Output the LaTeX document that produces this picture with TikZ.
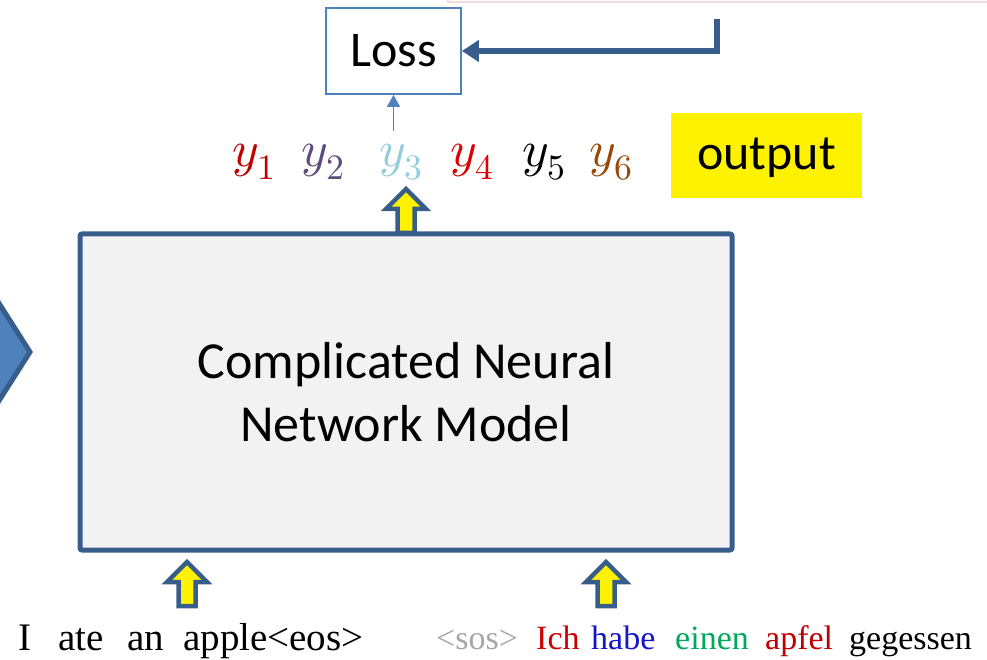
\documentclass[tikz,border=0pt]{standalone}
\usepackage{fontspec}
\usepackage{unicode-math}
\setmainfont{Carlito}
\newfontfamily\timesf{Liberation Serif}
\usetikzlibrary{arrows.meta}
\definecolor{dkblue}{RGB}{56,93,138}
\definecolor{accent}{RGB}{79,129,189}
\definecolor{boxgray}{RGB}{242,242,242}
\definecolor{pinkline}{RGB}{242,220,219}
\definecolor{cyone}{RGB}{192,0,0}
\definecolor{cytwo}{RGB}{96,74,123}
\definecolor{cythree}{RGB}{147,205,221}
\definecolor{cyfour}{RGB}{220,0,0}
\definecolor{cysix}{RGB}{152,72,7}
\definecolor{sosgray}{RGB}{166,166,166}
\definecolor{ichred}{RGB}{204,0,0}
\definecolor{habeblue}{RGB}{20,20,200}
\definecolor{einengreen}{RGB}{0,168,90}
\definecolor{apfelred}{RGB}{192,0,0}
\tikzset{
  modelbox/.style={draw=dkblue, line width=5pt, fill=boxgray, rounded corners=2pt,
    minimum width=652pt, minimum height=316pt, align=center, inner sep=0pt,
    font=\fontsize{52}{63}\selectfont},
  lossbox/.style={draw=accent, line width=1.8pt, fill=white, minimum width=135pt,
    minimum height=86pt, inner sep=0pt, font=\fontsize{50}{50}\selectfont},
  outbox/.style={fill=yellow, minimum width=191pt, minimum height=85pt, inner sep=0pt,
    text height=38pt, text depth=10pt, font=\fontsize{50}{50}\selectfont},
  ylab/.style={anchor=base west, inner sep=0pt, font=\fontsize{51}{51}\selectfont},
  lefttext/.style={anchor=base west, inner sep=0pt, font=\timesf\fontsize{39}{39}\selectfont},
  righttext/.style={anchor=base west, inner sep=0pt, font=\timesf\fontsize{34}{34}\selectfont},
  thinarr/.style={draw=accent, line width=1.5pt, -{Triangle[length=12pt,width=13pt]}},
  fbarr/.style={draw=dkblue, line width=6pt, line join=miter, -{Triangle[length=17pt,width=21pt]}},
  blockup/.pic={\draw[line width=4.5pt, draw=dkblue, fill=yellow, line join=miter]
    (0,0) -- (20,20) -- (8.5,20) -- (8.5,44) -- (-8.5,44) -- (-8.5,20) -- (-20,20) -- cycle;},
}
\begin{document}
\begin{tikzpicture}[x=1pt,y=-1pt]
\clip (0,0) rectangle (987,660);
\useasboundingbox (0,0) rectangle (987,660);
% faint rectangle at the top edge
\draw[pinkline, line width=2pt] (448,-20) rectangle (1010,2.5);
% left chevron (partly off the picture)
\draw[draw=dkblue, fill=accent, line width=5pt, line join=miter] (-40,242) -- (30,352) -- (-40,462) -- cycle;
% block arrows
\pic at (406,189) {blockup};
\pic at (187,562) {blockup};
\pic at (606,562) {blockup};
% main model box
\node[modelbox] (model) at (406,392) {Complicated Neural\\Network Model};
% loss box
\node[lossbox] (loss) at (393.5,51) {Loss};
% output labels
\node[ylab, text=cyone] (y1) at (232,167) {$y_1$};
\node[ylab, text=cytwo] (y2) at (301,167) {$y_2$};
\node[ylab, text=cythree] (y3) at (379,167) {$y_3$};
\node[ylab, text=cyfour] (y4) at (450,167) {$y_4$};
\node[ylab, text=black] (y5) at (522,167) {$y_5$};
\node[ylab, text=cysix] (y6) at (589,167) {$y_6$};
\node[outbox] (out) at (766.5,155.5) {output};
% connectors
\draw[thinarr, shorten <=13pt] (y3.north -| loss.south) -- (loss.south);
\coordinate (fb) at (717,19);
\draw[fbarr] (fb) |- (loss.east);
% input sentence
\node[lefttext] (w1) at (18,650) {I};
\node[lefttext] (w2) at (58,650) {ate};
\node[lefttext] (w3) at (127,650) {an};
\node[lefttext] (w4) at (183,650) {apple<eos>};
% target sentence
\node[righttext, text=sosgray] (t0) at (436,649) {<sos>};
\node[righttext, text=ichred] (t1) at (536,649) {Ich};
\node[righttext, text=habeblue] (t2) at (591,649) {habe};
\node[righttext, text=einengreen] (t3) at (675,649) {einen};
\node[righttext, text=apfelred] (t4) at (765,649) {apfel};
\node[righttext, text=black] (t5) at (849,649) {gegessen};
\end{tikzpicture}
\end{document}
